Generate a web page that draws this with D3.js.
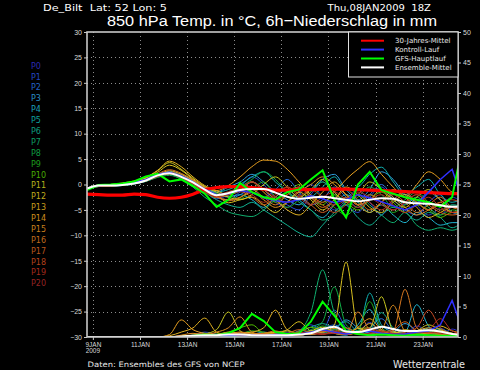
<!DOCTYPE html>
<html><head><meta charset="utf-8">
<script src="https://cdn.jsdelivr.net/npm/d3@7"></script>
<style>html,body{margin:0;padding:0;background:#000}svg{display:block}text{white-space:pre}</style>
</head><body>
<script>
// ---------- DATA ----------
const hours = [0,12,24,36,48,60,72,84,96,108,120,132,144,156,168,180,192,204,216,228,240,252,264,276,288,300,312,324,336,348,360,372,384];
const tempTicks = [-30,-25,-20,-15,-10,-5,0,5,10,15,20,25,30];
const precTicks = [0,5,10,15,20,25,30,35,40,45,50];
const dateTickLabels = ["9JAN","11JAN","13JAN","15JAN","17JAN","19JAN","21JAN","23JAN"];
const dateTickHours = [6,54,102,150,198,246,294,342];
const memberNames = ["P0","P1","P2","P3","P4","P5","P6","P7","P8","P9","P10","P11","P12","P13","P14","P15","P16","P17","P18","P19","P20"];
const memberColors = ["#3030c8","#2850dc","#2870e0","#30a0e0","#20b4d0","#10b4b4","#10b090","#10b070","#10b048","#20b020","#50c000","#c8c820","#d8c020","#e0b020","#e8a020","#e09020","#d87820","#d06020","#c84820","#b83020","#a82828"];

const climT = [-1.9,-2.0,-2.1,-2.1,-1.9,-2.0,-2.5,-2.7,-2.5,-1.9,-1.0,-0.6,-0.4,-0.4,-0.6,-0.9,-1.1,-1.1,-1.0,-1.0,-0.9,-0.9,-0.9,-1.0,-1.1,-1.2,-1.3,-1.4,-1.5,-1.6,-1.7,-1.8,-1.8];
const meanT = [-0.8,-0.2,-0.2,-0.1,0.2,0.8,1.8,2.2,1.5,0.4,-1.0,-2.1,-1.7,-1.1,-0.9,-0.9,-1.6,-2.4,-2.8,-2.6,-2.4,-2.7,-3.0,-3.3,-3.0,-2.7,-2.8,-3.5,-3.7,-3.8,-4.1,-4.4,-4.4];
const gfsT = [-1.1,-0.1,0.0,0.2,0.6,1.6,2.1,0.6,1.0,-0.3,-1.8,-4.4,-3.0,0.3,-1.5,-2.5,-3.0,-1.5,-1.0,1.0,2.8,-3.0,-6.5,0.0,2.5,-1.1,-1.8,-2.5,-3.0,-3.5,-4.4,-2.5,9.0];
const ctrlT = [-0.8,-0.2,-0.1,0.1,0.4,1.0,2.0,2.4,1.7,0.5,-0.9,-2.0,-1.8,-1.2,-1.6,-2.6,-3.2,-3.5,-3.0,-2.2,-2.8,-3.6,-3.0,-2.0,-2.6,-3.4,-4.2,-5.0,-4.0,-1.5,1.0,3.0,-4.0];

const meanP = [0,0,0,0,0,0,0,0,0.1,0.2,0.3,0.3,0.4,0.4,0.3,0.3,0.3,0.3,0.4,0.6,1.3,1.7,0.9,0.8,1.2,1.7,1.3,1.0,1.0,1.1,0.9,0.5,0.3];
const gfsP = [0,0,0,0,0,0,0,0,0,0.2,0.4,0.3,0.6,1.5,3.8,2.6,0.8,0.5,0.6,2.5,5.8,3.5,1.0,0.5,0.3,0.4,0.3,0.2,0.4,0.3,0.2,0.2,0.1];
const ctrlP = [0,0,0,0,0,0,0,0,0,0.1,0.2,0.3,0.2,0.4,0.3,0.2,0.4,0.6,0.4,0.8,1.2,0.8,0.5,0.8,1.0,0.6,0.4,0.5,0.8,1.0,2.0,6.0,0.5];

const t0 = [-0.8,-0.3,-0.1,0.0,0.4,1.0,2.0,2.5,1.8,0.6,-0.8,-1.8,-2.5,-1.5,0.5,-1.0,-3.5,-4.5,-2.0,0.0,-2.5,-5.0,-3.0,-1.0,-3.5,-6.0,-3.0,-1.5,-4.0,-6.0,-4.5,-2.5,-4.0];
const t1 = [-0.7,-0.2,-0.3,-0.2,0.1,0.7,1.6,2.0,1.2,0.0,-1.5,-2.8,-2.0,-0.5,1.5,0.0,-2.5,-4.0,-5.0,-2.0,0.5,-1.5,-4.0,-5.5,-2.5,-0.5,-3.0,-5.0,-6.0,-3.5,-2.0,-5.5,-6.0];
const t2 = [-0.8,-0.1,-0.1,0.1,0.3,0.9,1.9,2.4,1.6,0.5,-1.2,-2.5,-3.0,-2.0,-1.0,-2.5,-1.0,1.0,-1.5,-4.0,-3.0,-0.5,-2.5,-4.5,-2.0,0.0,-2.5,-4.0,-2.5,-4.5,-6.0,-4.0,-4.5];
const t3 = [-0.9,-0.4,-0.3,-0.1,0.2,0.6,1.5,2.1,1.4,0.2,-1.0,-1.5,-0.5,0.5,2.0,0.5,-1.5,-3.0,-4.0,-1.5,1.0,2.0,-1.0,-3.0,-1.0,2.5,1.0,-2.0,-3.5,-1.5,-3.0,-4.5,-4.0];
const t4 = [-0.8,-0.2,-0.2,0.0,0.3,0.8,1.7,2.3,1.7,0.7,-0.6,-1.9,-2.4,-2.0,-3.0,-4.5,-2.5,-1.0,-3.0,-5.0,-6.5,-4.0,-2.0,-3.5,-5.5,-4.0,-6.0,-7.5,-5.5,-6.5,-8.0,-7.5,-7.5];
const t5 = [-0.8,-0.3,-0.2,-0.1,0.2,0.9,1.9,2.6,2.0,0.8,-0.5,-1.5,-1.0,0.0,1.5,2.5,0.5,-1.5,-3.0,-2.5,-0.5,1.5,-1.0,-0.5,2.0,3.4,0.5,-2.0,-0.5,1.0,-2.0,-3.5,-2.5];
const t6 = [-0.7,-0.2,-0.1,0.1,0.5,1.1,2.0,2.4,1.5,0.1,-1.5,-3.0,-4.0,-4.5,-3.5,-5.0,-6.5,-8.0,-9.5,-10.3,-8.0,-5.5,-4.0,-6.5,-8.0,-6.0,-4.5,-5.5,-7.0,-5.5,-6.5,-8.5,-7.0];
const t7 = [-0.8,-0.3,-0.2,0.0,0.3,0.8,1.6,2.0,1.0,-0.5,-2.5,-4.0,-5.4,-6.0,-6.3,-5.0,-3.0,-1.5,-3.5,-5.0,-7.0,-6.0,-3.5,-2.0,-4.0,-6.0,-7.5,-5.5,-8.0,-9.0,-8.5,-9.0,-8.0];
const t8 = [-0.9,-0.3,-0.3,-0.2,0.1,0.6,1.4,1.8,1.1,0.0,-1.2,-2.2,-1.5,-0.5,1.0,2.5,1.0,-1.5,-3.0,-1.5,0.5,-2.0,-4.0,-2.5,-0.5,-2.0,-4.5,-3.0,-1.5,-3.5,-5.0,-4.0,-4.5];
const t9 = [-0.8,-0.2,-0.1,0.1,0.4,1.0,1.8,2.2,1.6,0.5,-0.9,-1.8,-2.2,-2.8,-1.0,0.5,-2.5,-4.5,-3.0,-1.0,-2.5,-4.5,-6.0,-4.0,-2.0,-3.5,-5.5,-4.0,-2.5,-4.5,-6.0,-5.0,-5.5];
const t10 = [-0.8,-0.2,-0.2,0.0,0.2,0.8,1.7,2.1,1.4,0.3,-1.1,-2.3,-1.8,-1.0,0.5,-1.5,-3.5,-2.0,0.0,-2.5,-4.0,-2.0,-3.5,-5.0,-3.0,-1.5,-3.5,-5.5,-4.0,-5.0,-6.5,-5.5,-6.0];
const t11 = [-0.7,-0.1,0.0,0.2,0.6,1.3,2.7,4.3,3.0,1.2,-0.4,-1.5,-2.5,-3.0,-2.0,0.0,1.5,-0.5,-2.5,-1.0,1.0,-1.5,-3.5,-2.0,0.5,-1.0,-3.0,-4.5,-2.5,-1.0,-3.0,-4.5,-3.5];
const t12 = [-0.8,-0.2,-0.1,0.1,0.5,1.2,2.4,3.8,2.8,1.0,-0.7,-2.0,-3.6,-3.0,-2.5,-4.0,-5.5,-3.5,-1.5,-3.0,-5.0,-3.0,-0.5,-2.0,-4.5,-5.5,-3.5,-2.0,-3.5,-5.0,-4.0,-5.5,-5.0];
const t13 = [-0.8,-0.1,0.0,0.3,0.7,1.4,2.8,4.6,3.5,1.5,-0.2,-1.2,-2.0,-1.2,0.5,-1.0,-3.0,-5.0,-6.0,-4.0,-1.5,0.5,-2.0,-4.0,-5.5,-3.5,-1.0,-2.5,-4.5,-6.5,-5.5,-4.5,-4.5];
const t14 = [-0.8,-0.3,-0.2,0.0,0.3,0.9,1.9,2.7,2.0,0.8,-0.5,-1.2,-0.2,1.5,3.5,4.8,4.6,3.0,0.5,-2.0,-3.5,-1.5,1.0,3.0,4.5,2.0,-0.5,-2.5,0.0,2.5,1.0,-1.5,-2.0];
const t15 = [-0.9,-0.4,-0.3,-0.1,0.2,0.8,1.7,2.4,1.7,0.4,-1.2,-2.4,-3.0,-2.5,-1.5,-3.0,-4.5,-3.5,-1.5,0.0,1.5,0.0,-2.0,-4.0,-3.0,-1.0,-2.5,-4.5,-6.0,-5.0,-3.5,-5.5,-5.4];
const t16 = [-0.8,-0.2,-0.2,0.0,0.4,1.0,2.1,2.9,2.2,0.9,-0.8,-2.4,-3.2,-2.6,-1.0,-2.5,-4.0,-2.0,-0.5,-2.5,-4.5,-3.0,-1.0,-3.0,-5.0,-3.5,-2.0,-3.5,-5.5,-4.0,-2.5,-4.5,-5.0];
const t17 = [-0.8,-0.3,-0.2,-0.1,0.2,0.7,1.6,2.2,1.5,0.2,-1.4,-2.6,-2.0,-1.4,-2.5,-4.0,-2.5,-0.5,-2.0,-4.0,-5.5,-4.0,-2.5,-4.0,-2.0,-3.5,-5.0,-3.5,-2.0,-4.0,-5.5,-6.0,-5.5];
const t18 = [-0.8,-0.2,-0.1,0.0,0.3,0.8,1.8,2.4,1.6,0.3,-1.3,-2.2,-1.6,-0.8,0.5,-1.5,-3.0,-2.0,-0.5,-2.5,-4.0,-5.5,-4.0,-2.0,-3.5,-5.0,-3.0,-1.5,-3.5,-5.0,-3.5,-3.0,-4.0];
const t19 = [-0.8,-0.3,-0.3,-0.1,0.2,0.7,1.6,2.1,1.3,0.1,-1.5,-2.4,-2.0,-1.2,-2.0,-3.5,-2.0,-0.5,-2.5,-4.0,-2.5,-1.5,-3.0,-4.5,-3.0,-2.0,-4.0,-5.5,-4.0,-2.5,-4.5,-5.5,-4.8];
const t20 = [-0.8,-0.2,-0.2,0.0,0.3,0.9,1.8,2.3,1.5,0.3,-1.1,-2.0,-1.4,-0.6,0.5,-1.0,-2.5,-3.5,-2.5,-1.0,-2.5,-4.0,-3.0,-1.5,-2.5,-4.0,-5.0,-3.5,-2.0,-3.5,-5.0,-4.5,-4.6];

const r0 = [0,0,0,0,0,0,0,0,0,0.2,0.3,0.5,0.2,0,0.3,0.5,0.2,0.1,0.3,0.8,1.5,1.0,0.5,0.8,2.4,0.6,0.3,0.5,1.8,0.8,0.4,1.3,0.2];
const r1 = [0,0,0,0,0,0,0,0,0.1,0.3,0.8,0.4,0.2,0.5,0.3,0.1,0.2,0.4,1.0,2.0,1.2,4.4,1.5,0.6,0.8,1.6,0.8,0.4,0.6,1.2,0.7,0.3,0.2];
const r2 = [0,0,0,0,0,0,0,0,0,0.1,0.2,0.2,0.1,0.3,0.6,0.3,0.2,0.5,0.3,0.6,1.2,2.0,0.8,0.5,1.5,3.0,1.0,0.6,0.4,0.8,1.4,0.5,0.3];
const r3 = [0,0,0,0,0,0,0,0,0,0,0.2,0.3,0.2,0.2,0.4,0.8,0.4,0.2,0.5,0.4,0.8,1.2,2.8,1.5,0.6,0.4,0.8,2.2,1.0,0.5,0.6,0.4,0.2];
const r4 = [0,0,0,0,0,0,0,0,0,0.1,0.3,0.2,0.4,0.6,0.2,0.3,0.6,0.4,0.2,0.8,1.4,0.6,0.3,2.0,4.5,1.2,0.6,0.8,5.3,1.8,0.6,0.5,0.8];
const r5 = [0,0,0,0,0,0,0,0,0,0,0.1,0.2,0.1,0.2,0.3,0.5,0.3,0.4,0.6,1.0,0.6,1.5,2.5,1.0,7.2,2.0,0.8,0.5,0.6,1.5,0.8,0.4,0.3];
const r6 = [0,0,0,0,0,0,0,0,0,0.1,0.2,0.4,0.3,0.2,0.5,0.3,0.2,0.3,0.8,1.6,2.2,1.4,0.8,1.0,1.2,4.0,1.5,0.6,0.4,0.8,1.2,0.6,0.4];
const r7 = [0,0,0,0,0,0,0,0,0,0.1,0.2,0.3,0.5,0.3,0.2,0.4,0.6,0.5,1.0,4.0,11.0,4.0,1.5,0.8,0.5,0.4,0.6,0.3,0.2,0.5,0.4,0.3,0.2];
const r8 = [0,0,0,0,0,0,0,0,0,0,0.2,0.2,0.4,0.2,0.3,0.6,0.8,1.0,0.6,1.2,2.5,8.2,2.0,0.8,0.5,1.0,0.6,0.4,0.3,0.6,0.4,0.3,0.2];
const r9 = [0,0,0,0,0,0,0,0,0,0.1,0.1,0.3,0.2,0.5,1.0,0.8,0.4,0.3,0.5,0.8,1.8,1.2,0.6,1.0,5.8,1.5,0.6,0.4,0.8,1.2,0.6,0.3,0.2];
const r10 = [0,0,0,0,0,0,0,0,0,0.2,0.3,0.5,0.8,1.5,2.0,0.6,0.3,0.5,0.8,1.6,1.0,0.6,0.4,0.8,1.4,0.8,0.4,0.3,0.5,0.8,0.5,0.3,0.2];
const r11 = [0,0,0,0,0,0,0,0,0,0.2,0.5,1.2,4.1,1.0,0.3,0.5,0.8,0.6,0.4,1.0,1.6,0.8,0.6,1.4,1.5,6.6,1.0,0.5,1.0,2.0,1.2,0.6,0.4];
const r12 = [0,0,0,0,0,0,0,0,0,0.1,0.3,0.2,0.5,0.8,0.6,0.4,0.6,1.2,2.5,1.0,0.8,2.0,12.3,1.5,1.0,0.6,0.8,0.5,0.4,0.6,1.0,0.5,0.3];
const r13 = [0,0,0,0,0,0,0,0.2,0.8,1.5,3.1,0.8,0.4,0.6,0.8,1.5,4.4,1.2,0.6,0.8,1.2,0.6,0.4,0.8,2.2,1.0,0.6,1.2,0.8,0.5,1.8,1.0,0.6];
const r14 = [0,0,0,0,0,0,0,0.4,2.8,1.2,0.6,0.4,0.8,0.5,0.3,0.6,0.8,0.5,0.3,0.6,1.0,0.8,0.5,1.6,3.0,1.2,0.6,0.4,1.0,1.5,0.8,0.6,0.4];
const r15 = [0,0,0,0,0,0,0,0,0.3,0.6,0.4,0.8,1.5,3.3,0.8,0.4,0.6,1.0,0.6,0.4,0.8,1.4,0.8,0.5,0.6,1.2,5.2,1.0,0.6,0.8,0.5,0.4,0.3];
const r16 = [0,0,0,0,0,0,0,0,0.2,0.3,0.6,0.4,0.3,0.8,0.5,0.6,1.0,0.5,0.8,0.6,1.2,0.8,0.6,4.1,1.2,0.6,1.0,7.8,1.5,0.6,0.4,0.3,0.2];
const r17 = [0,0,0,0,0,0,0,0,0,0.2,0.4,0.3,0.6,0.4,0.3,0.5,0.4,0.6,1.2,0.8,0.5,0.8,1.5,0.6,0.4,0.8,1.2,2.5,1.0,0.6,0.8,0.5,0.3];
const r18 = [0,0,0,0,0,0,0,0,0,0.1,0.2,0.3,0.2,0.4,0.3,0.2,0.5,0.4,0.3,0.6,1.0,0.6,0.4,0.8,1.2,0.6,0.5,0.8,1.5,4.4,1.5,0.6,0.4];
const r19 = [0,0,0,0,0,0,0,0,0,0.1,0.2,0.2,0.3,0.5,0.3,0.4,0.3,0.5,0.8,0.6,0.4,1.0,0.6,0.8,1.4,0.8,0.5,0.6,0.8,1.2,3.0,1.0,0.5];
const r20 = [0,0,0,0,0,0,0,0,0,0.1,0.1,0.2,0.3,0.2,0.4,0.3,0.2,0.4,0.6,0.8,0.5,0.6,0.8,0.5,0.6,1.0,0.6,0.4,0.6,0.8,0.6,0.4,0.3];

const memberTemps = [t0,t1,t2,t3,t4,t5,t6,t7,t8,t9,t10,t11,t12,t13,t14,t15,t16,t17,t18,t19,t20];
const memberPrec = [r0,r1,r2,r3,r4,r5,r6,r7,r8,r9,r10,r11,r12,r13,r14,r15,r16,r17,r18,r19,r20];
const legendLabels = ["30-Jahres-Mittel","Kontroll-Lauf","GFS-Hauptlauf","Ensemble-Mittel"];
const legendColors = ["#ff0000","#3030ff","#00ff00","#ffffff"];

// ---------- CHART ----------
const W = 480, H = 370;
const X0 = 87, X1 = 458, Y0 = 32, Y1 = 337;
const svg = d3.select("body").append("svg").attr("width", W).attr("height", H)
  .style("background", "#000").style("font-family", "'DejaVu Sans', sans-serif");
svg.append("rect").attr("width", W).attr("height", H).attr("fill", "#000");

const x = d3.scaleLinear().domain([0, 378]).range([X0, X1]);
const yT = d3.scaleLinear().domain([-30, 30]).range([Y1, Y0]);
const yP = d3.scaleLinear().domain([0, 50]).range([Y1, Y0]);

svg.append("clipPath").attr("id", "clip").append("rect")
  .attr("x", X0).attr("y", Y0).attr("width", X1 - X0).attr("height", Y1 - Y0);

// grid
const grid = svg.append("g").attr("stroke", "#8c8c8c").attr("stroke-width", 1).attr("stroke-dasharray", "1,3");
grid.selectAll(".gv").data(dateTickHours).join("line")
  .attr("x1", d => Math.round(x(d)) + 0.5).attr("x2", d => Math.round(x(d)) + 0.5)
  .attr("y1", Y0).attr("y2", Y1);
grid.selectAll(".gh").data(tempTicks.filter(d => d > -30 && d < 30)).join("line")
  .attr("x1", X0).attr("x2", X1)
  .attr("y1", d => Math.round(yT(d)) + 0.5).attr("y2", d => Math.round(yT(d)) + 0.5);

const plot = svg.append("g").attr("clip-path", "url(#clip)");
const lineT = d3.line().x((d, i) => x(hours[i])).y(d => yT(d)).curve(d3.curveMonotoneX);
const lineP = d3.line().x((d, i) => x(hours[i])).y(d => yP(d)).curve(d3.curveMonotoneX);
const lineTlin = d3.line().x((d, i) => x(hours[i])).y(d => yT(d));
const linePlin = d3.line().x((d, i) => x(hours[i])).y(d => yP(d));

memberPrec.forEach((arr, k) => {
  plot.append("path").attr("d", lineP(arr)).attr("fill", "none")
    .attr("stroke", memberColors[k]).attr("stroke-width", 1);
});
memberTemps.forEach((arr, k) => {
  plot.append("path").attr("d", lineT(arr)).attr("fill", "none")
    .attr("stroke", memberColors[k]).attr("stroke-width", 1);
});
// main lines
plot.append("path").attr("d", lineT(climT)).attr("fill", "none").attr("stroke", "#ff0000").attr("stroke-width", 3.2);
plot.append("path").attr("d", linePlin(ctrlP)).attr("fill", "none").attr("stroke", "#3030ff").attr("stroke-width", 1.5);
plot.append("path").attr("d", lineTlin(ctrlT)).attr("fill", "none").attr("stroke", "#3030ff").attr("stroke-width", 1.5);
plot.append("path").attr("d", linePlin(gfsP)).attr("fill", "none").attr("stroke", "#00ff00").attr("stroke-width", 2);
plot.append("path").attr("d", lineTlin(gfsT)).attr("fill", "none").attr("stroke", "#00ff00").attr("stroke-width", 2);
plot.append("path").attr("d", lineP(meanP)).attr("fill", "none").attr("stroke", "#ffffff").attr("stroke-width", 2);
plot.append("path").attr("d", lineT(meanT)).attr("fill", "none").attr("stroke", "#ffffff").attr("stroke-width", 2);

// axes
const axisColor = "#c8c8c8";
function styleAxis(g) {
  g.select(".domain").remove();
  g.selectAll(".tick line").attr("stroke", axisColor);
  g.selectAll(".tick text").attr("fill", "#d8d8d8").style("font-size", "7px");
}
svg.append("g").attr("transform", `translate(${X0},0)`)
  .call(d3.axisLeft(yT).tickValues(tempTicks).tickSize(3).tickPadding(2).tickFormat(d => d < 0 ? "\u2212" + (-d) : d))
  .call(styleAxis);
svg.append("g").attr("transform", `translate(${X1},0)`)
  .call(d3.axisRight(yP).tickValues(precTicks).tickSize(3).tickPadding(2))
  .call(styleAxis);
const xAxis = svg.append("g").attr("transform", `translate(0,${Y1})`)
  .call(d3.axisBottom(x).tickValues(dateTickHours).tickSize(3).tickPadding(2).tickFormat((d, i) => dateTickLabels[i]))
  .call(styleAxis);
xAxis.selectAll(".tick text").style("font-size", "6.5px");
xAxis.append("text").attr("x", x(dateTickHours[0])).attr("y", 16).attr("text-anchor", "middle")
  .attr("fill", "#d8d8d8").style("font-size", "6.5px").text("2009");

// frame
svg.append("rect").attr("x", X0).attr("y", Y0).attr("width", X1 - X0).attr("height", Y1 - Y0)
  .attr("fill", "none").attr("stroke", axisColor).attr("stroke-width", 1.6);

// legend
const lg = svg.append("g");
lg.append("rect").attr("x", 348.5).attr("y", Y0).attr("width", X1 - 348.5).attr("height", 45)
  .attr("fill", "#000").attr("stroke", "#e0e0e0").attr("stroke-width", 1);
legendLabels.forEach((lab, i) => {
  const cy = 40.7 + i * 8.9;
  lg.append("line").attr("x1", 361).attr("x2", 384).attr("y1", cy).attr("y2", cy)
    .attr("stroke", legendColors[i]).attr("stroke-width", 2);
  lg.append("text").attr("x", 395).attr("y", cy + 2.5).attr("fill", "#e8e8e8")
    .style("font-size", "7px").text(lab);
});

// member labels
svg.append("g").selectAll("text").data(memberNames).join("text")
  .attr("x", 31).attr("y", (d, i) => 68.7 + i * 10.88)
  .attr("fill", (d, i) => d3.color(memberColors[i]).darker(0.35)).style("font-size", "8px").text(d => d);

// titles
svg.append("text").attr("x", 43).attr("y", 11).attr("fill", "#fff").style("font-size", "9.5px")
  .attr("textLength", 124).attr("lengthAdjust", "spacingAndGlyphs").text("De_Bilt  Lat: 52 Lon: 5");
svg.append("text").attr("x", 327.5).attr("y", 11).attr("fill", "#fff").style("font-size", "9.5px")
  .attr("textLength", 103.5).attr("lengthAdjust", "spacingAndGlyphs").text("Thu,08JAN2009  18Z");
svg.append("text").attr("x", 107).attr("y", 26).attr("fill", "#fff").style("font-size", "15.5px")
  .style("font-family", "'Liberation Sans', sans-serif")
  .attr("textLength", 330).attr("lengthAdjust", "spacingAndGlyphs")
  .text("850 hPa Temp. in \u00B0C, 6h\u2212Niederschlag in mm");
svg.append("text").attr("x", 87.5).attr("y", 367).attr("fill", "#e8e8e8").style("font-size", "7.5px")
  .attr("textLength", 157).attr("lengthAdjust", "spacingAndGlyphs").text("Daten: Ensembles des GFS von NCEP");
svg.append("text").attr("x", 393).attr("y", 367.5).attr("fill", "#e8e8e8").style("font-size", "10px")
  .attr("textLength", 72).attr("lengthAdjust", "spacingAndGlyphs").text("Wetterzentrale");
</script>
</body></html>
